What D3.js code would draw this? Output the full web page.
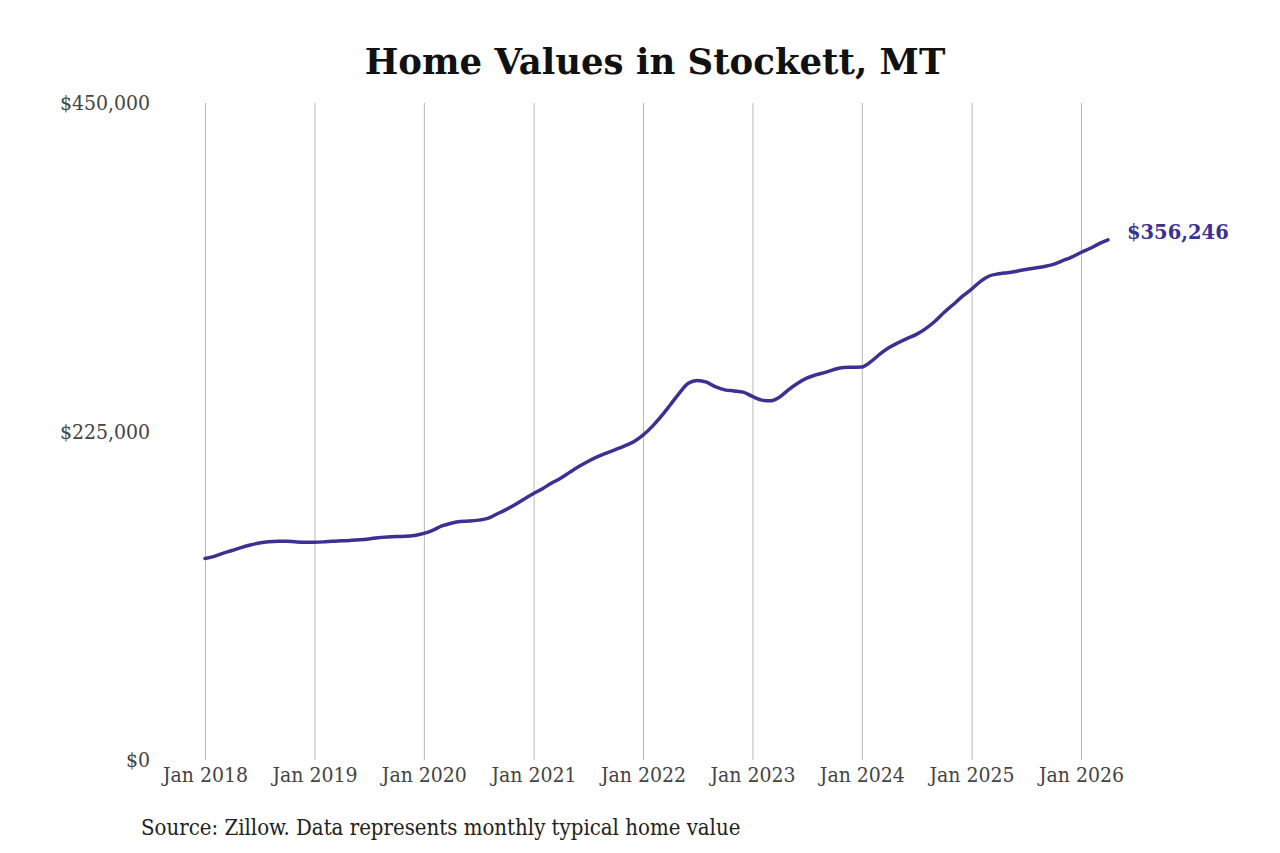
<!DOCTYPE html>
<html>
<head>
<meta charset="utf-8">
<script src="https://cdn.jsdelivr.net/npm/d3@7"></script>
<style>
  body { margin: 0; background: #fff; }
  svg text { font-family: "DejaVu Serif", serif; }
</style>
</head>
<body>
<div id="chart"></div>
<script>
  // Chart dimensions
  const width = 1280;
  const height = 853;
  const margin = { top: 103, right: 174, bottom: 93, left: 205 };

  // Monthly typical home value, Jan 2018 onward
  const startYear = 2018;
  const values = [
    138000, 139500, 141500, 143500, 145500, 147300, 148600, 149500, 149900, 149800, 149400, 149200,
    149200, 149400, 149800, 150100, 150400, 150800, 151400, 152300, 152800, 153100, 153200, 153800,
    155200, 157500, 160300, 162200, 163400, 163700, 164300, 165500, 168500, 171500, 175000, 178800,
    182500, 186000, 189500, 193000, 197000, 201000, 204500, 207600, 210200, 212600, 215200, 218000,
    222500, 228500, 235000, 243000, 251000, 258000, 260000, 258800, 255500, 253500, 252800, 252000,
    249000, 246500, 246000, 248500, 253500, 258000, 261500, 263800, 265500, 267500, 268800, 269000,
    269200, 273000, 278000, 282500, 285800, 288800, 291500, 295500, 300500, 306500, 312000, 317500,
    322500, 328000, 331500, 333000, 333800, 334800, 336000, 337000, 338000, 339500, 342000, 344500,
    347600, 350500, 353500, 356246
  ];
  const yTicks = [0, 225000, 450000];
  const xTickYears = [2018, 2019, 2020, 2021, 2022, 2023, 2024, 2025, 2026];

  const data = values.map((v, i) => ({ date: new Date(startYear, i, 1), value: v }));

  const svg = d3.select("#chart")
    .append("svg")
    .attr("width", width)
    .attr("height", height);

  const x = d3.scaleTime()
    .domain([new Date(2018, 0, 1), new Date(2026, 0, 1)])
    .range([margin.left, 1081]);

  const y = d3.scaleLinear()
    .domain([0, 450000])
    .range([height - margin.bottom, margin.top]);

  // Title
  svg.append("text")
    .attr("x", 655)
    .attr("y", 74)
    .attr("text-anchor", "middle")
    .style("font-size", "35.5px")
    .style("font-weight", "bold")
    .attr("fill", "#111")
    .text("Home Values in Stockett, MT");

  // Vertical gridlines + x labels
  const xAxis = svg.append("g")
    .attr("transform", `translate(0,${height - margin.bottom})`)
    .call(d3.axisBottom(x)
      .tickValues(xTickYears.map(yr => new Date(yr, 0, 1)))
      .tickSize(-(height - margin.bottom - margin.top))
      .tickPadding(7)
      .tickFormat(d3.timeFormat("Jan %Y")));
  xAxis.select(".domain").remove();
  xAxis.selectAll("line").attr("stroke", "#b8b8b8").attr("stroke-width", 1);
  xAxis.selectAll("text")
    .attr("fill", "#444")
    .style("font-size", "21px")
    .style("font-stretch", "condensed")
    .style("font-family", "'DejaVu Serif', serif");

  // Y labels
  const yAxis = svg.append("g")
    .attr("transform", `translate(150,0)`)
    .call(d3.axisLeft(y)
      .tickValues(yTicks)
      .tickSize(0)
      .tickPadding(0)
      .tickFormat(d => "$" + d3.format(",")(d)));
  yAxis.select(".domain").remove();
  yAxis.selectAll("text")
    .attr("fill", "#444")
    .style("font-size", "21px")
    .style("font-stretch", "condensed")
    .style("font-family", "'DejaVu Serif', serif");

  // Line
  const line = d3.line()
    .x(d => x(d.date))
    .y(d => y(d.value))
    .curve(d3.curveMonotoneX);

  svg.append("path")
    .datum(data)
    .attr("fill", "none")
    .attr("stroke", "#3a3192")
    .attr("stroke-width", 3.5)
    .attr("stroke-linecap", "round")
    .attr("stroke-linejoin", "round")
    .attr("d", line);

  // End label
  const last = data[data.length - 1];
  svg.append("text")
    .attr("x", x(last.date) + 19)
    .attr("y", y(last.value) - 1)
    .attr("fill", "#3a3192")
    .style("font-size", "19.5px")
    .style("font-weight", "bold")
    .text("$" + d3.format(",")(last.value));

  // Source
  svg.append("text")
    .attr("x", 141)
    .attr("y", 835)
    .attr("fill", "#222")
    .style("font-size", "22px")
    .style("font-stretch", "condensed")
    .text("Source: Zillow. Data represents monthly typical home value");
</script>
</body>
</html>
